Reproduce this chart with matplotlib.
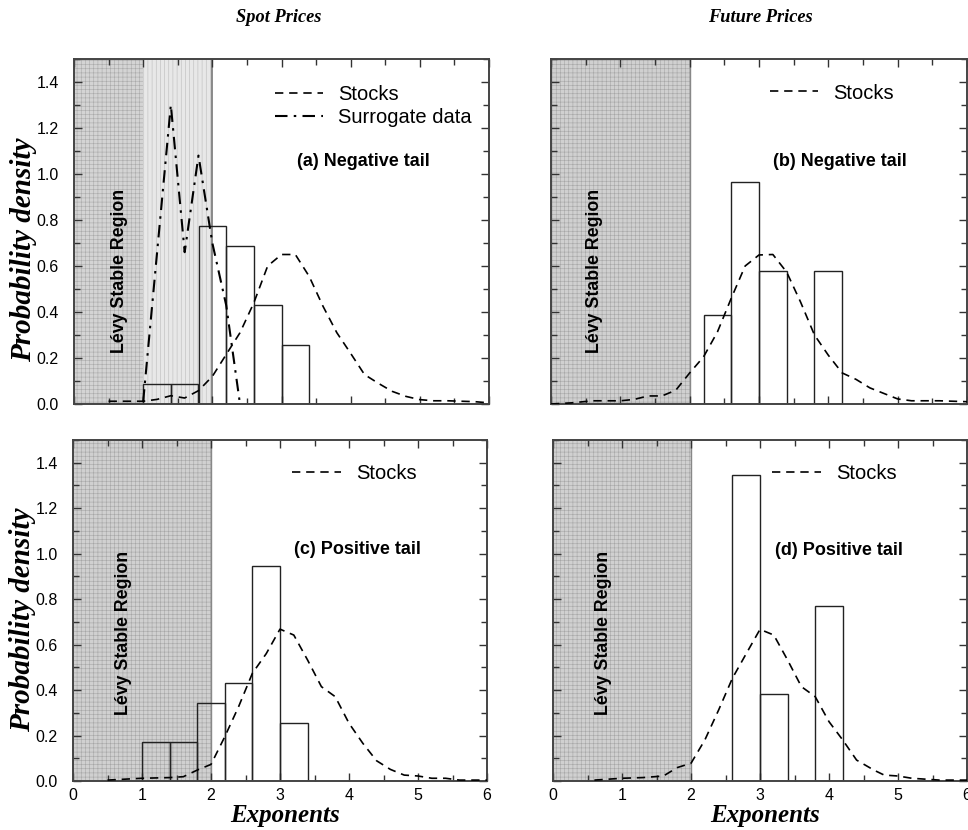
import matplotlib
matplotlib.use("Agg")
import matplotlib.pyplot as plt
from matplotlib.lines import Line2D
from matplotlib.ticker import MultipleLocator

plt.rcParams['hatch.linewidth'] = 0.4

# ---------------- data ----------------
# (a) spot prices, negative tail
a_bar_left = [1.0, 1.4, 1.8, 2.2, 2.6, 3.0]
a_bar_h = [0.087, 0.087, 0.775, 0.688, 0.430, 0.258]
a_stk_x = [0.5, 1.0, 1.2, 1.4, 1.6, 1.8, 2.0, 2.2, 2.4, 2.6, 2.8, 3.0, 3.2, 3.4,
           3.6, 3.8, 4.0, 4.2, 4.4, 4.6, 4.8, 5.0, 5.2, 5.4, 5.6, 5.8, 6.0]
a_stk_y = [0.012, 0.012, 0.02, 0.036, 0.026, 0.058, 0.12, 0.215, 0.31, 0.44, 0.60,
           0.65, 0.65, 0.555, 0.425, 0.31, 0.22, 0.128, 0.09, 0.055, 0.033, 0.019,
           0.014, 0.014, 0.012, 0.01, 0.005]
a_sur_x = [1.0, 1.4, 1.6, 1.8, 2.0, 2.2, 2.4]
a_sur_y = [0.01, 1.30, 0.66, 1.08, 0.70, 0.43, 0.0]

# (b) future prices, negative tail
b_bar_left = [2.2, 2.6, 3.0, 3.8]
b_bar_h = [0.387, 0.964, 0.579, 0.579]
b_stk_x = [0.0, 0.3, 0.6, 1.0, 1.2, 1.4, 1.6, 1.8, 2.0, 2.2, 2.4, 2.6, 2.8, 3.0,
           3.2, 3.4, 3.6, 3.8, 4.0, 4.2, 4.4, 4.6, 4.8, 5.0, 5.2, 5.6, 6.0]
b_stk_y = [0.0, 0.005, 0.014, 0.014, 0.02, 0.035, 0.035, 0.06, 0.135, 0.205, 0.313,
           0.46, 0.60, 0.648, 0.65, 0.573, 0.443, 0.30, 0.212, 0.135, 0.107, 0.07,
           0.046, 0.022, 0.014, 0.014, 0.01]

# (c) spot prices, positive tail
c_bar_left = [1.0, 1.4, 1.8, 2.2, 2.6, 3.0]
c_bar_h = [0.172, 0.172, 0.343, 0.43, 0.947, 0.257]
c_stk_x = [0.5, 1.0, 1.4, 1.6, 1.8, 2.0, 2.2, 2.4, 2.6, 2.8, 3.0, 3.2, 3.4, 3.6,
           3.8, 4.0, 4.2, 4.4, 4.6, 4.8, 5.0, 5.2, 5.4, 5.6, 6.0]
c_stk_y = [0.004, 0.012, 0.015, 0.019, 0.048, 0.073, 0.195, 0.327, 0.474, 0.56,
           0.668, 0.642, 0.532, 0.415, 0.371, 0.254, 0.166, 0.089, 0.051, 0.026,
           0.022, 0.012, 0.012, 0.004, 0.004]

# (d) future prices, positive tail
d_bar_left = [2.6, 3.0, 3.8]
d_bar_h = [1.346, 0.383, 0.77]
d_stk_x = [0.6, 1.0, 1.3, 1.6, 1.8, 2.0, 2.2, 2.4, 2.6, 2.8, 3.0, 3.2, 3.4, 3.6,
           3.8, 4.0, 4.2, 4.4, 4.65, 4.8, 5.0, 5.2, 5.6, 6.0]
d_stk_y = [0.004, 0.012, 0.015, 0.022, 0.059, 0.078, 0.18, 0.312, 0.452, 0.56,
           0.667, 0.642, 0.532, 0.415, 0.371, 0.261, 0.18, 0.092, 0.048, 0.026,
           0.022, 0.012, 0.004, 0.004]

bin_width = 0.4
x_ticks = [0, 1, 2, 3, 4, 5, 6]
y_ticks = [0.0, 0.2, 0.4, 0.6, 0.8, 1.0, 1.2, 1.4]
panel_labels = ["(a) Negative tail", "(b) Negative tail",
                "(c) Positive tail", "(d) Positive tail"]
col_titles = ["Spot Prices", "Future Prices"]

# ---------------- figure ----------------
W, H = 968, 830
fig = plt.figure(figsize=(W / 100, H / 100), dpi=100)

def px_axes(x0, y0, x1, y1):
    return fig.add_axes([x0 / W, 1 - y1 / H, (x1 - x0) / W, (y1 - y0) / H])

ax_a = px_axes(74, 59, 489, 404)
ax_b = px_axes(551, 59, 967, 404)
ax_c = px_axes(73, 440, 487, 781)
ax_d = px_axes(553, 440, 967, 781)

sans = ['Liberation Sans', 'DejaVu Sans']
serif = ['Liberation Serif', 'DejaVu Serif']
dash = (0, (5, 3.5))
dashdot = (0, (6, 3, 1.2, 3))

def style(ax, xlabels, ylabels):
    ax.set_xlim(0, 6)
    ax.set_ylim(0, 1.5)
    ax.set_xticks(x_ticks)
    ax.set_yticks(y_ticks)
    ax.xaxis.set_minor_locator(MultipleLocator(0.5))
    ax.yaxis.set_minor_locator(MultipleLocator(0.1))
    ax.tick_params(which='both', direction='in', top=True, right=True,
                   color='#333333', width=1.0)
    ax.tick_params(which='major', length=6)
    ax.tick_params(which='minor', length=4)
    ax.tick_params(axis='y', pad=11)
    ax.tick_params(axis='x', pad=5)
    for s in ax.spines.values():
        s.set_color('#444444')
        s.set_linewidth(1.4)
    if xlabels:
        ax.set_xticklabels([str(t) for t in x_ticks], fontfamily=sans, fontsize=11.5)
        ax.set_xlabel("Exponents", fontfamily=serif, fontsize=18,
                      fontweight='bold', fontstyle='italic')
        ax.xaxis.set_label_coords(0.512, -0.066)
    else:
        ax.set_xticklabels([])
    if ylabels:
        ax.set_yticklabels(["%.1f" % t for t in y_ticks], fontfamily=sans, fontsize=11.5)
        ax.set_ylabel("Probability density", fontfamily=serif, fontsize=21,
                      fontweight='bold', fontstyle='italic')
    else:
        ax.set_yticklabels([])

def shade(ax, light_upper=False):
    if light_upper:
        ax.axvspan(0, 1, facecolor='#d4d4d4', edgecolor='#aaaaaa', hatch='++++',
                   lw=0, zorder=0)
        ax.axvspan(1, 2, facecolor='#e8e8e8', edgecolor='#bbbbbb', hatch='||||',
                   lw=0, zorder=0)
        ax.axvline(2, color='#777777', lw=1.2, zorder=1)
    else:
        ax.axvspan(0, 2, facecolor='#d0d0d0', edgecolor='#a6a6a6', hatch='++++',
                   lw=0, zorder=0)
        ax.axvline(2, color='#888888', lw=1.0, zorder=1)

def levy(ax, x, y):
    ax.text(x, y, "Lévy Stable Region", rotation=90, ha='center', va='center',
            fontfamily=sans, fontsize=12.8, fontweight='bold', zorder=4)

def bars(ax, left, h):
    ax.bar(left, h, width=bin_width, align='edge', fill=False,
           edgecolor='#222222', lw=1.0, zorder=2)

def stocks(ax, x, y):
    ax.plot(x, y, color='black', lw=1.2, linestyle=dash, zorder=3)

def legend(ax, handles, xa, ya):
    leg = ax.legend(handles=handles, loc='center left', bbox_to_anchor=(xa, ya),
                    frameon=False, borderpad=0, borderaxespad=0,
                    handlelength=2.4, handletextpad=0.75, labelspacing=0.2,
                    prop={'family': sans, 'size': 14.5})
    return leg

stk_handle = Line2D([], [], color='black', lw=1.2, linestyle=dash, label='Stocks')
sur_handle = Line2D([], [], color='black', lw=1.5, linestyle=dashdot,
                    label='Surrogate data')

# (a)
shade(ax_a, light_upper=True)
bars(ax_a, a_bar_left, a_bar_h)
stocks(ax_a, a_stk_x, a_stk_y)
ax_a.plot(a_sur_x, a_sur_y, color='black', lw=1.5, linestyle=dashdot, zorder=3)
levy(ax_a, 0.66, 0.58)
ax_a.text(4.18, 1.055, panel_labels[0], ha='center', va='center',
          fontfamily=sans, fontsize=13, fontweight='bold')
legend(ax_a, [stk_handle, sur_handle], 2.9 / 6, 1.295 / 1.5)
style(ax_a, False, True)
ax_a.yaxis.set_label_coords(-0.089, 0.446)

# (b)
shade(ax_b)
bars(ax_b, b_bar_left, b_bar_h)
stocks(ax_b, b_stk_x, b_stk_y)
levy(ax_b, 0.63, 0.577)
ax_b.text(4.16, 1.056, panel_labels[1], ha='center', va='center',
          fontfamily=sans, fontsize=13, fontweight='bold')
legend(ax_b, [stk_handle], 3.16 / 6, 1.352 / 1.5)
style(ax_b, False, False)

# (c)
shade(ax_c)
bars(ax_c, c_bar_left, c_bar_h)
stocks(ax_c, c_stk_x, c_stk_y)
levy(ax_c, 0.73, 0.65)
ax_c.text(4.12, 1.02, panel_labels[2], ha='center', va='center',
          fontfamily=sans, fontsize=13, fontweight='bold')
legend(ax_c, [stk_handle], 3.18 / 6, 1.353 / 1.5)
style(ax_c, True, True)
ax_c.yaxis.set_label_coords(-0.089, 0.472)

# (d)
shade(ax_d)
bars(ax_d, d_bar_left, d_bar_h)
stocks(ax_d, d_stk_x, d_stk_y)
levy(ax_d, 0.73, 0.65)
ax_d.text(4.14, 1.016, panel_labels[3], ha='center', va='center',
          fontfamily=sans, fontsize=13, fontweight='bold')
legend(ax_d, [stk_handle], 3.18 / 6, 1.353 / 1.5)
style(ax_d, True, False)

fig.text(279 / W, 1 - 18 / H, col_titles[0], ha='center', va='center',
         fontfamily=serif, fontsize=13.2, fontweight='bold', fontstyle='italic')
fig.text(760 / W, 1 - 18 / H, col_titles[1], ha='center', va='center',
         fontfamily=serif, fontsize=13.2, fontweight='bold', fontstyle='italic')

fig.savefig("out.png", dpi=100)
